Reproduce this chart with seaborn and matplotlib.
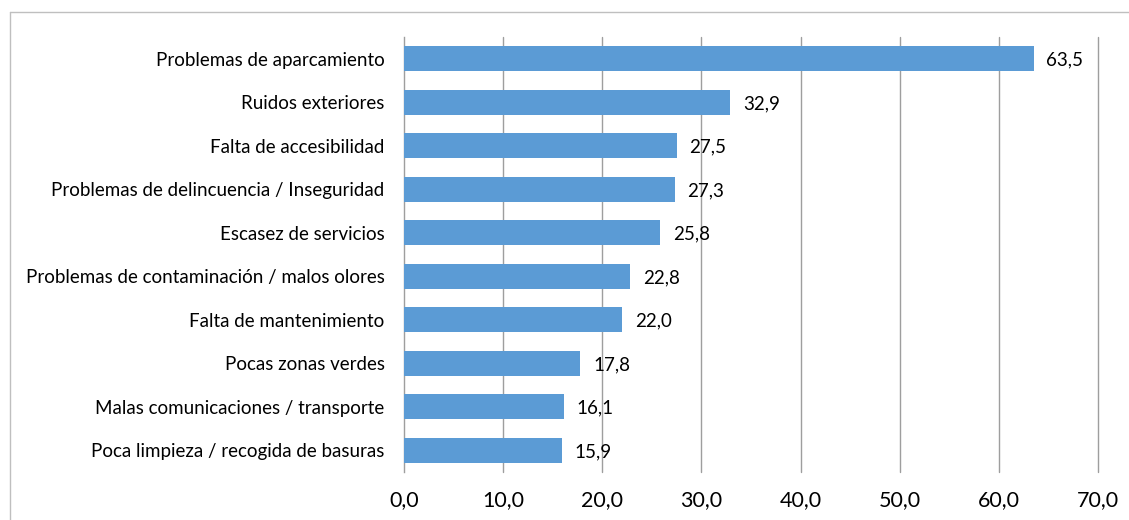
import matplotlib
matplotlib.use("Agg")
import matplotlib.pyplot as plt
from matplotlib.lines import Line2D
import seaborn as sns
import pandas as pd

categories = [
    "Problemas de aparcamiento",
    "Ruidos exteriores",
    "Falta de accesibilidad",
    "Problemas de delincuencia / Inseguridad",
    "Escasez de servicios",
    "Problemas de contaminación / malos olores",
    "Falta de mantenimiento",
    "Pocas zonas verdes",
    "Malas comunicaciones / transporte",
    "Poca limpieza / recogida de basuras",
]
values = [63.5, 32.9, 27.5, 27.3, 25.8, 22.8, 22.0, 17.8, 16.1, 15.9]
x_ticks = [0, 10, 20, 30, 40, 50, 60, 70]

df = pd.DataFrame({"categoria": categories, "valor": values})

sns.set_style("white")
plt.rcParams["font.family"] = ["Lato", "DejaVu Sans"]

W, H = 1129, 520
fig = plt.figure(figsize=(W / 100, H / 100), dpi=100)
ax = fig.add_axes([404 / W, 1 - 472 / H, (1098 - 404) / W, (472 - 37) / H])

sns.barplot(data=df, y="categoria", x="valor", color="#5B9BD5", saturation=1,
            width=0.58, linewidth=0, ax=ax, zorder=3)

ax.set_xlim(0, 70)
ax.set_xticks(x_ticks)
ax.set_xticklabels([f"{t:.1f}".replace(".", ",") for t in x_ticks], fontsize=15.5)
ax.set_xlabel("")
ax.set_ylabel("")
ax.tick_params(axis="y", labelsize=13.5, length=0, pad=14)
ax.tick_params(axis="x", length=0, pad=13)
for lbl in ax.get_yticklabels() + ax.get_xticklabels():
    lbl.set_color("#000000")

# vertical gridlines drawn per tick so the last one is not clipped
for t in x_ticks[1:]:
    ax.axvline(t, color="#9E9E9E", linewidth=1.0, zorder=0, clip_on=False)
for side in ["top", "right", "bottom"]:
    ax.spines[side].set_visible(False)
ax.spines["left"].set_color("#9E9E9E")
ax.spines["left"].set_linewidth(1.0)

for i, v in enumerate(values):
    ax.text(v + 1.3, i + 0.03, f"{v:.1f}".replace(".", ","), va="center", ha="left",
            fontsize=13.5, color="#000000")

# outer frame of the chart area
fig.add_artist(Line2D([10 / W, 1], [1 - 12 / H, 1 - 12 / H], transform=fig.transFigure,
                      color="#BFBFBF", linewidth=1.0))
fig.add_artist(Line2D([10 / W, 10 / W], [0, 1 - 12 / H], transform=fig.transFigure,
                      color="#BFBFBF", linewidth=1.0))

fig.savefig("out.png", dpi=100, facecolor="white")
